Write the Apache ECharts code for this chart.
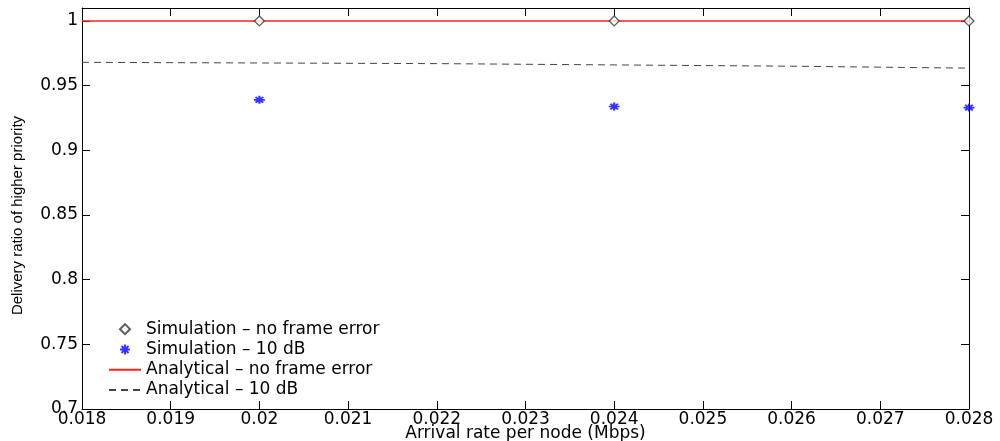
<!DOCTYPE html>
<html>
<head>
<meta charset="utf-8">
<script src="https://cdn.jsdelivr.net/npm/echarts@6/dist/echarts.min.js"></script>
<style>html,body{margin:0;padding:0;background:#fff}#c{width:1000px;height:441px}</style>
</head>
<body>
<div id="c"></div>
<script>
// Data
const simX = [0.020, 0.024, 0.028];
const simNoError = [1.0, 1.0, 1.0];
const sim10dB = [0.939, 0.9338, 0.933];
const anaX = [0.018, 0.020, 0.022, 0.024, 0.026, 0.028];
const anaNoError = [1, 1, 1, 1, 1, 1];
const ana10dB = [0.968, 0.9675, 0.967, 0.966, 0.965, 0.9635];
const seriesNames = ['Simulation \u2013 no frame error', 'Simulation \u2013 10 dB', 'Analytical \u2013 no frame error', 'Analytical \u2013 10 dB'];

const zip = (xs, ys) => xs.map((x, i) => [x, ys[i]]);
const asterisk = 'path://M-2,-10L2,-10L2,10L-2,10Z M-10,-2L10,-2L10,2L-10,2Z M-5.6,-8.4L8.4,5.6L5.6,8.4L-8.4,-5.6Z M8.4,-5.6L-5.6,8.4L-8.4,5.6L5.6,-8.4Z';
const diamond = 'path://M0,-5L5,0L0,5L-5,0Z';
const font = 'DejaVu Sans';

const chart = echarts.init(document.getElementById('c'), null, {renderer: 'canvas'});
const axisCommon = {
  axisLine: {show: true, lineStyle: {color: '#000', width: 1}},
  axisTick: {show: true, inside: true, length: 8, lineStyle: {color: '#000'}},
  splitLine: {show: false}
};
chart.setOption({
  animation: false,
  backgroundColor: '#fff',
  grid: {left: 82, right: 31, top: 8, bottom: 32, containLabel: false, outerBoundsMode: 'none'},
  legend: {
    orient: 'vertical', left: 103, top: 314, itemWidth: 32, itemHeight: 10, itemGap: 0,
    symbolKeepAspect: true,
    textStyle: {fontFamily: font, fontSize: 17, color: '#000', lineHeight: 20.3},
    data: [
      {name: seriesNames[0], icon: diamond},
      {name: seriesNames[1]},
      {name: seriesNames[2], itemStyle: {opacity: 0}},
      {name: seriesNames[3], itemStyle: {opacity: 0}}
    ]
  },
  xAxis: [
    Object.assign({}, axisCommon, {
      type: 'value', min: 0.018, max: 0.028, interval: 0.001,
      name: 'Arrival rate per node (Mbps)', nameLocation: 'middle', nameGap: 16,
      nameMoveOverlap: false,
      nameTextStyle: {fontFamily: font, fontSize: 17, color: '#000'},
      axisLabel: {fontFamily: font, fontSize: 17, color: '#000', margin: 2,
        formatter: v => String(+v.toFixed(3))}
    }),
    Object.assign({}, axisCommon, {
      type: 'value', position: 'top', min: 0.018, max: 0.028, interval: 0.001,
      axisLabel: {show: false}
    })
  ],
  yAxis: [
    Object.assign({}, axisCommon, {
      type: 'value', min: 0.7, max: 1.01, interval: 0.05,
      name: 'Delivery ratio of higher priority', nameLocation: 'middle', nameGap: 57,
      nameTextStyle: {fontFamily: 'Liberation Sans', fontSize: 15, color: '#000', padding: [0, 14, 0, 0]},
      axisLabel: {fontFamily: font, fontSize: 17, color: '#000', margin: 4,
        formatter: v => Math.abs(v * 20 - Math.round(v * 20)) < 1e-6 ? String(+v.toFixed(2)) : ''}
    }),
    Object.assign({}, axisCommon, {
      type: 'value', position: 'right', min: 0.7, max: 1.01, interval: 0.05,
      axisLabel: {show: false}
    })
  ],
  series: [
    {
      name: seriesNames[2], type: 'line', data: zip(anaX, anaNoError), symbol: 'none',
      lineStyle: {color: '#ff2020', width: 1.5}, itemStyle: {color: '#ff2020'}, z: 2
    },
    {
      name: seriesNames[3], type: 'line', data: zip(anaX, ana10dB), symbol: 'none',
      lineStyle: {color: '#444', width: 1, type: [7, 5]}, itemStyle: {color: '#444'}, z: 2
    },
    {
      name: seriesNames[0], type: 'scatter', data: zip(simX, simNoError), symbol: diamond,
      symbolSize: 10, symbolKeepAspect: true, clip: false,
      itemStyle: {color: '#fff', borderColor: '#333', borderWidth: 1.3}, z: 3
    },
    {
      name: seriesNames[1], type: 'scatter', data: zip(simX, sim10dB), symbol: asterisk,
      symbolSize: [11, 8], symbolKeepAspect: false, clip: false,
      itemStyle: {color: '#0000ff'}, z: 3
    }
  ]
});
</script>
</body>
</html>
